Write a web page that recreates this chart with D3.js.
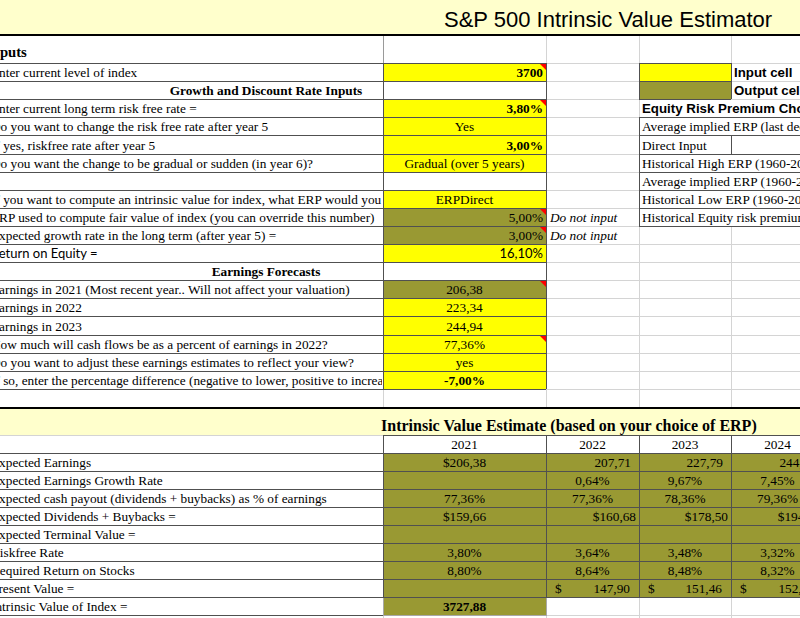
<!DOCTYPE html>
<head>
  <meta charset="utf-8">
  <!-- Load d3.js -->
  <script src="https://d3js.org/d3.v7.min.js"></script>
  <style>
    body { margin: 0; background: #fff; }
    svg { display: block; }
  </style>
</head>

<body>
  <!-- the worksheet gets drawn in here -->
  <div id="sheet"></div>
</body>

<script>

// ---- values ----
var title = "S&P 500 Intrinsic Value Estimator";
var inputsHeader = "Inputs";

var inputLabels = [
  "Enter current level of index",
  "Growth and Discount Rate Inputs",
  "Enter current long term risk free rate  =",
  "Do you want to change the risk free rate after year 5",
  "If yes, riskfree rate after year 5",
  "Do you want the change to be gradual or sudden (in year 6)?",
  "",
  "If you want to compute an intrinsic value for index, what ERP would you like to use?",
  "ERP used to compute fair value of index (you can override this number)",
  "Expected growth rate in the long term (after year 5) =",
  "Return on Equity =",
  "Earnings Forecasts",
  "Earnings in 2021 (Most recent year.. Will not affect your valuation)",
  "Earnings in 2022",
  "Earnings in 2023",
  "How much will cash flows be as a percent of earnings in 2022?",
  "Do you want to adjust these earnings estimates to reflect your view?",
  "If so, enter the percentage difference (negative to lower, positive to increase)"
];
var inputValues = ["3700", "", "3,80%", "Yes", "3,00%", "Gradual (over 5 years)", "",
  "ERPDirect", "5,00%", "3,00%", "16,10%", "", "206,38", "223,34", "244,94", "77,36%", "yes", "-7,00%"];
var inputKind = ["input", "", "input", "input", "input", "input", "",
  "input", "output", "output", "input", "", "output", "input", "input", "input", "input", "input"];
var inputNotes = ["", "", "", "", "", "", "", "", "Do not input", "Do not input", "", "", "", "", "", "", "", ""];
var commentRows = [0, 2, 8, 9, 12, 15];

var legendLabels = ["Input cell", "Output cell"];
var legendKind = ["input", "output"];
var erpTitle = "Equity Risk Premium Choices";
var erpChoices = [
  "Average implied ERP (last decade)",
  "Direct Input",
  "Historical High ERP (1960-2021)",
  "Average implied ERP (1960-2021)",
  "Historical Low ERP (1960-2021)",
  "Historical Equity risk premium"
];

var tableTitle = "Intrinsic Value Estimate (based on your choice of ERP)";
var years = ["2021", "2022", "2023", "2024"];
var tableLabels = [
  "Expected Earnings",
  "Expected Earnings Growth Rate",
  "Expected cash payout (dividends + buybacks) as % of earnings",
  "Expected Dividends + Buybacks =",
  "Expected Terminal Value =",
  "Riskfree Rate",
  "Required Return on Stocks",
  "Present Value =",
  "Intrinsic Value of Index ="
];
var expectedEarnings = ["$206,38", "207,71", "227,79", "244,76"];
var earningsGrowth   = ["", "0,64%", "9,67%", "7,45%"];
var cashPayout       = ["77,36%", "77,36%", "78,36%", "79,36%"];
var dividends        = ["$159,66", "$160,68", "$178,50", "$194,24"];
var terminalValue    = ["", "", "", ""];
var riskfreeRate     = ["3,80%", "3,64%", "3,48%", "3,32%"];
var requiredReturn   = ["8,80%", "8,64%", "8,48%", "8,32%"];
var presentValue     = ["", "147,90", "151,46", "152,16"];
var intrinsicValue   = "3727,88";

// ---- layout ----
var W = 800, H = 618;
var SERIF = "'Liberation Serif','Times New Roman',serif",
    ARIAL = "'Liberation Sans',Arial,sans-serif",
    CALIBRI = "Lato,'Liberation Sans',sans-serif";
var GRID = "#d4d4d4", BORDER = "#505050", YELLOW = "#ffff00", OLIVE = "#999933", CREAM = "#ffffcc";
var fillOf = { input: YELLOW, output: OLIVE };

var svg = d3.select("#sheet")
  .append("svg")
    .attr("width", W)
    .attr("height", H)
    .style("font-family", SERIF)
    .style("font-size", "13.3px")
    .attr("shape-rendering", "crispEdges");

// column letter -> left edge (column A is scrolled a bit off screen)
var colNames = ["A", "B", "C", "D", "E", "F"];
var xEdge = d3.scaleOrdinal().domain(colNames).range([-9, 383, 546, 639, 731, 824]);
function nextCol(c) { return colNames[colNames.indexOf(c) + 1]; }
var yearCol = d3.scaleOrdinal().domain(years).range(["B", "C", "D", "E"]);

// row index -> top edge
var yTop = d3.scaleLinear().domain([0, 19]).range([63, 407]);
var yBot = d3.scaleLinear().domain([0, 9]).range([453, 615]);

function px(v) { return Math.round(v) + 0.5; }
function hline(g, x1, x2, y, color, w) {
  g.append("line").attr("x1", x1).attr("x2", x2).attr("y1", px(y)).attr("y2", px(y))
    .attr("stroke", color).attr("stroke-width", w || 1);
}
function vline(g, x, y1, y2, color, w) {
  g.append("line").attr("x1", px(x)).attr("x2", px(x)).attr("y1", y1).attr("y2", y2)
    .attr("stroke", color).attr("stroke-width", w || 1);
}
// text inside a cell, align = start / middle / end, pad from the edge
function cellText(g, txt, c, yBottom, align, pad) {
  var x0 = xEdge(c), x1 = xEdge(nextCol(c));
  var x = align == "start" ? x0 + pad : align == "end" ? x1 - pad : (x0 + x1) / 2;
  return g.append("text").attr("x", x).attr("y", yBottom - 4)
    .attr("text-anchor", align).text(txt);
}

// clip for texts of column A
svg.append("clipPath").attr("id", "clipA")
  .append("rect").attr("x", 0).attr("y", 0).attr("width", xEdge("B") - 1).attr("height", H);

// ---- gridlines ----
var grid = svg.append("g");
d3.range(0, 20).forEach(function(i) { hline(grid, 0, W, yTop(i), GRID); });
["B", "C", "D", "E"].forEach(function(c) { vline(grid, xEdge(c), 35, 407, GRID); });
d3.range(0, 10).forEach(function(i) { hline(grid, 0, W, yBot(i), GRID); });
hline(grid, 0, W, 435, GRID);
["B", "C", "D", "E"].forEach(function(c) { vline(grid, xEdge(c), 435, H, GRID); });
vline(grid, xEdge("B"), 35, 63, "#9a9a9a");

// ---- title band ----
svg.append("rect").attr("x", 0).attr("y", 0).attr("width", W).attr("height", 34).attr("fill", CREAM);
hline(svg, 0, W, 33.5, "#000", 2);
svg.append("text").attr("x", 444).attr("y", 26.5)
  .style("font-family", ARIAL).style("font-size", "22px").text(title);

svg.append("text").attr("x", -14).attr("y", 56.5)
  .style("font-weight", "bold").style("font-size", "14.7px").text(inputsHeader);

// ---- inputs block ----
var inp = svg.append("g");
var inputCells = inputValues.map(function(v, i) { return { row: i, value: v, kind: inputKind[i] }; });

inp.selectAll("rect.cell")
  .data(inputCells.filter(function(d) { return d.kind; }))
  .join("rect")
    .attr("x", xEdge("B"))
    .attr("y", function(d) { return Math.round(yTop(d.row)); })
    .attr("width", xEdge("C") - xEdge("B"))
    .attr("height", function(d) { return Math.round(yTop(d.row + 1)) - Math.round(yTop(d.row)); })
    .attr("fill", function(d) { return fillOf[d.kind]; });

// borders of column A + B
d3.range(0, 19).forEach(function(i) { hline(inp, 0, xEdge("C"), yTop(i), BORDER); });
vline(inp, xEdge("B"), yTop(0), yTop(18), BORDER);
vline(inp, xEdge("C"), yTop(0), yTop(18), BORDER);

var headerRows = [1, 11];
var sansRows = [10];
var rightRows = [0, 2, 4, 8, 9, 10];
var boldRows = [0, 2, 4, 17];

inputLabels.forEach(function(label, i) {
  if (!label) return;
  var yb = yTop(i + 1);
  if (headerRows.indexOf(i) >= 0) {
    inp.append("text").attr("x", 266).attr("y", yb - 4).attr("text-anchor", "middle")
      .style("font-weight", "bold").text(label);
    return;
  }
  var t = inp.append("text").attr("x", xEdge("A")).attr("y", yb - 4)
    .attr("clip-path", "url(#clipA)").text(label);
  if (sansRows.indexOf(i) >= 0) t.style("font-family", CALIBRI).style("font-size", "13px");
});

inputCells.forEach(function(d) {
  if (!d.value) return;
  var right = rightRows.indexOf(d.row) >= 0;
  var t = cellText(inp, d.value, "B", yTop(d.row + 1), right ? "end" : "middle", 3);
  if (boldRows.indexOf(d.row) >= 0) t.style("font-weight", "bold");
  if (sansRows.indexOf(d.row) >= 0) t.style("font-family", CALIBRI).style("font-size", "13px");
});

inputNotes.forEach(function(n, i) {
  if (!n) return;
  cellText(inp, n, "C", yTop(i + 1), "start", 4).style("font-style", "italic");
});

// comment markers
inp.selectAll("path.comment")
  .data(commentRows)
  .join("path")
    .attr("shape-rendering", "auto")
    .attr("d", function(r) {
      var x1 = xEdge("C"), y0 = Math.round(yTop(r)) + 1;
      return "M" + (x1 - 6) + "," + y0 + "L" + x1 + "," + y0 + "L" + x1 + "," + (y0 + 6) + "Z";
    })
    .attr("fill", "#ff0000");

// ---- legend + ERP choices ----
var side = svg.append("g");
side.selectAll("rect.legend")
  .data(legendKind)
  .join("rect")
    .attr("x", xEdge("D"))
    .attr("y", function(d, i) { return Math.round(yTop(i)); })
    .attr("width", xEdge("E") - xEdge("D"))
    .attr("height", function(d, i) { return Math.round(yTop(i + 1)) - Math.round(yTop(i)); })
    .attr("fill", function(d) { return fillOf[d]; });

// text spilling over into column E hides the gridline there
side.selectAll("rect.spill")
  .data(d3.range(2, 9))
  .join("rect")
    .attr("x", xEdge("D") + 1)
    .attr("y", function(r) { return Math.round(yTop(r)) + 1; })
    .attr("width", W - xEdge("D"))
    .attr("height", function(r) { return Math.round(yTop(r + 1)) - Math.round(yTop(r)) - 1; })
    .attr("fill", "#fff");

[0, 1, 2].forEach(function(i) { hline(side, xEdge("D"), xEdge("E"), yTop(i), BORDER); });
vline(side, xEdge("D"), yTop(0), yTop(2), BORDER);
vline(side, xEdge("E"), yTop(0), yTop(2), BORDER);
legendLabels.forEach(function(l, i) {
  cellText(side, l, "E", yTop(i + 1), "start", 3)
    .style("font-family", ARIAL).style("font-weight", "bold");
});
cellText(side, erpTitle, "D", yTop(3), "start", 3)
  .style("font-family", ARIAL).style("font-weight", "bold");

d3.range(3, 10).forEach(function(i) { hline(side, xEdge("D"), W, yTop(i), BORDER); });
vline(side, xEdge("D"), yTop(3), yTop(9), BORDER);
vline(side, xEdge("E"), yTop(4), yTop(5), BORDER);
erpChoices.forEach(function(c, i) { cellText(side, c, "D", yTop(i + 4), "start", 3); });

// ---- intrinsic value table ----
var tbl = svg.append("g");
tbl.append("rect").attr("x", 0).attr("y", 408).attr("width", W).attr("height", 27).attr("fill", CREAM);
hline(tbl, 0, W, 406.5, "#000", 2);
tbl.append("text").attr("x", 381).attr("y", 430.5)
  .style("font-weight", "bold").style("font-size", "16px").text(tableTitle);

var tableRows = [expectedEarnings, earningsGrowth, cashPayout, dividends, terminalValue,
                 riskfreeRate, requiredReturn, presentValue];
// how each row is aligned in the sheet: [align, pad] for 2021 and for later years
var rowFormat = [
  [["middle", 0], ["end", 8]],
  [["middle", 0], ["middle", 0]],
  [["middle", 0], ["middle", 0]],
  [["middle", 0], ["end", 3]],
  [["middle", 0], ["middle", 0]],
  [["middle", 0], ["middle", 0]],
  [["middle", 0], ["middle", 0]],
  [["middle", 0], ["end", 9]]
];

var cells = [];
tableRows.forEach(function(vals, r) {
  years.forEach(function(y, k) { cells.push({ row: r, year: y, k: k, value: vals[k] }); });
});

tbl.selectAll("rect.val")
  .data(cells)
  .join("rect")
    .attr("x", function(d) { return xEdge(yearCol(d.year)); })
    .attr("y", function(d) { return Math.round(yBot(d.row)); })
    .attr("width", function(d) { var c = yearCol(d.year); return xEdge(nextCol(c)) - xEdge(c); })
    .attr("height", function(d) { return Math.round(yBot(d.row + 1)) - Math.round(yBot(d.row)); })
    .attr("fill", OLIVE);

// intrinsic value cell
tbl.append("rect").attr("x", xEdge("B") + 0.5).attr("y", Math.round(yBot(8)) + 0.5)
  .attr("width", xEdge("C") - xEdge("B")).attr("height", Math.round(yBot(9)) - Math.round(yBot(8)))
  .attr("fill", OLIVE).attr("stroke", "#a8a8a8");

// borders
d3.range(0, 9).forEach(function(i) { hline(tbl, 0, W, yBot(i), BORDER); });
hline(tbl, 0, xEdge("B"), yBot(9), BORDER);
hline(tbl, xEdge("B"), W, 435, BORDER);
vline(tbl, xEdge("B"), 435, yBot(8), BORDER);
["C", "D", "E"].forEach(function(c) { vline(tbl, xEdge(c), 435, yBot(8), BORDER); });

years.forEach(function(y) { cellText(tbl, y, yearCol(y), yBot(0), "middle", 0); });

tableLabels.forEach(function(l, i) {
  tbl.append("text").attr("x", xEdge("A")).attr("y", yBot(i + 1) - 4)
    .attr("clip-path", "url(#clipA)").text(l);
});

cells.forEach(function(d) {
  if (!d.value) return;
  var f = rowFormat[d.row][d.k == 0 ? 0 : 1];
  var c = yearCol(d.year);
  cellText(tbl, d.value, c, yBot(d.row + 1), f[0], f[1]);
  if (d.row == 7) cellText(tbl, "$", c, yBot(d.row + 1), "start", 9);
});

cellText(tbl, intrinsicValue, "B", yBot(9), "middle", 0).style("font-weight", "bold");

</script>
